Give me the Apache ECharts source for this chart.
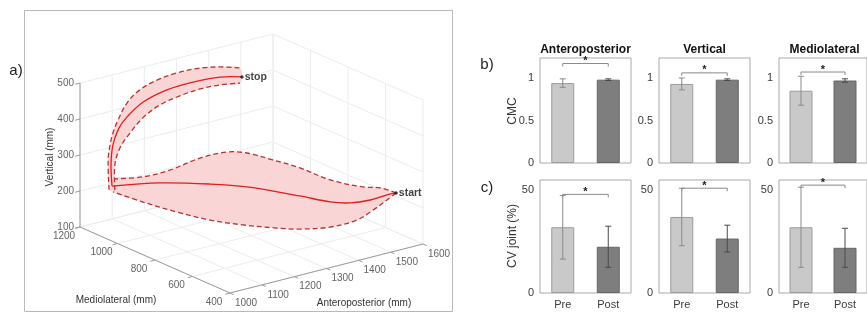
<!DOCTYPE html>
<html>
<head>
<meta charset="utf-8">
<script src="https://cdn.jsdelivr.net/npm/echarts@6/dist/echarts.min.js"></script>
<style>
  html, body { margin: 0; padding: 0; background: #fff; }
  #chart { width: 867px; height: 320px; }
</style>
</head>
<body>
<div id="chart"></div>
<script>
// ---------- a) hand trajectory, points as [anteroposterior, mediolateral, vertical] in mm ----------
const apTicks = [1000, 1100, 1200, 1300, 1400, 1500, 1600];
const mlTicks = [400, 600, 800, 1000, 1200];
const vTicks = [100, 200, 300, 400, 500];

// reaching phase: from the start position back towards the body
const reachMean = [[1550,458,240],[1533,477,234],[1501,512,219],[1463,554,210],[1425,595,212],
  [1368,658,227],[1267,768,250],[1197,845,256],[1102,948,257],[1011,1048,246]];
const reachUpper = [[1550,458,240],[1520,492,253],[1487,527,255],[1425,595,273],[1368,658,305],
  [1316,714,326],[1267,768,344],[1229,809,346],[1178,865,328],[1121,928,293],[1070,984,273],[1013,1046,266]];
const reachLower = [[1550,458,240],[1533,477,220],[1506,506,191],[1476,539,163],[1425,595,142],
  [1368,658,135],[1324,705,137],[1260,776,144],[1197,845,156],[1134,913,177],[1070,984,203],[1013,1046,230]];

// lifting phase: up and forward to the stop position
const liftMean = [[1011,1048,246],[1009,1050,305],[1015,1050,359],[1034,1050,402],[1059,1050,427],
  [1109,1050,457],[1183,1050,474],[1264,1050,477],[1348,1050,472],[1416,1050,457]];
const liftOuter = [[1003,1050,237],[1000,1050,321],[1006,1050,361],[1015,1050,392],[1031,1050,425],
  [1059,1050,466],[1099,1050,493],[1152,1050,508],[1214,1050,514],[1286,1050,511],[1348,1050,500],[1410,1050,483]];
const liftInner = [[1021,1050,232],[1021,1050,302],[1037,1050,346],[1068,1050,380],[1108,1050,413],
  [1161,1050,437],[1223,1050,448],[1286,1050,453],[1348,1050,450],[1410,1050,441]];

// ---------- b) / c) pre vs post comparison per direction ----------
const directions = ['Anteroposterior', 'Vertical', 'Mediolateral'];
const sessions = ['Pre', 'Post'];
const cmcMean = [[0.94, 0.98], [0.93, 0.98], [0.85, 0.97]];
const cmcSD   = [[0.05, 0.01], [0.07, 0.01], [0.17, 0.02]];
const cmcBracket = [1.17, 1.06, 1.07];
const cvMean = [[32, 22.5], [37, 26.5], [32, 22]];
const cvSD   = [[15.5, 10], [14, 6.5], [19.5, 9.5]];
const cvBracket = [48, 51, 52.5];

// ---------- styling / layout ----------
const FONT = 'Arial, "Liberation Sans", Helvetica, sans-serif';
const LIGHT = '#c9c9c9', DARK = '#7e7e7e';

// oblique view of the 3D box: screen position of the corner (AP min, ML max, V min)
// and the screen vector spanned by each full axis range
const VIEW = { origin: [80, 227], apDir: [193, -49], mlDir: [150, 66], vDir: [0, -144] };
function proj(p) {
  const a = (p[0] - 1000) / 600, m = (1200 - p[1]) / 800, z = (p[2] - 100) / 400;
  return [VIEW.origin[0] + a * VIEW.apDir[0] + m * VIEW.mlDir[0] + z * VIEW.vDir[0],
          VIEW.origin[1] + a * VIEW.apDir[1] + m * VIEW.mlDir[1] + z * VIEW.vDir[1]];
}

// box grid lines on the floor and the two back walls
const gridSegs = [];
apTicks.forEach(a => { gridSegs.push([[a,400,100],[a,1200,100]]); gridSegs.push([[a,1200,100],[a,1200,500]]); });
mlTicks.forEach(m => { gridSegs.push([[1000,m,100],[1600,m,100]]); gridSegs.push([[1600,m,100],[1600,m,500]]); });
vTicks.forEach(v => { gridSegs.push([[1000,1200,v],[1600,1200,v]]); gridSegs.push([[1600,1200,v],[1600,400,v]]); });
const axisSegs = [[[1000,1200,100],[1000,1200,500]], [[1000,1200,100],[1000,400,100]], [[1000,400,100],[1600,400,100]]];
vTicks.forEach(v => axisSegs.push([[1000,1200,v],[985,1200,v]]));
mlTicks.forEach(m => axisSegs.push([[1000,m,100],[985,m,100]]));
apTicks.forEach(a => axisSegs.push([[a,400,100],[a,380,100]]));

const segData = segs => segs.map(s => proj(s[0]).concat(proj(s[1])));
function segSeries(segs, color) {
  return {
    type: 'custom', xAxisIndex: 0, yAxisIndex: 0, silent: true,
    dimensions: ['x1', 'y1', 'x2', 'y2'], encode: { x: [0, 2], y: [1, 3] },
    data: segData(segs),
    renderItem(params, api) {
      const p1 = api.coord([api.value(0), api.value(1)]);
      const p2 = api.coord([api.value(2), api.value(3)]);
      return { type: 'line', shape: { x1: p1[0], y1: p1[1], x2: p2[0], y2: p2[1] },
               style: { stroke: color, lineWidth: 1 } };
    }
  };
}

const SMOOTH = 0.35;
const bands = [{ upper: reachUpper, lower: reachLower }, { upper: liftOuter, lower: liftInner }];
const bandSeries = {
  type: 'custom', xAxisIndex: 0, yAxisIndex: 0, silent: true,
  data: bands.map((b, i) => [i, 0]),
  renderItem(params, api) {
    const b = bands[params.dataIndex];
    const up = b.upper.map(p => api.coord(proj(p)));
    const lo = b.lower.map(p => api.coord(proj(p)));
    const dashed = { stroke: '#b53434', lineWidth: 1.3, lineDash: [5, 3], fill: null };
    return { type: 'group', children: [
      { type: 'polygon', shape: { points: up.concat(lo.slice().reverse()), smooth: SMOOTH },
        style: { fill: '#f9d5d5' } },
      { type: 'polyline', shape: { points: up, smooth: SMOOTH }, style: dashed },
      { type: 'polyline', shape: { points: lo, smooth: SMOOTH }, style: dashed }
    ] };
  }
};
const means = [reachMean, liftMean];
const meanSeries = {
  type: 'custom', xAxisIndex: 0, yAxisIndex: 0, silent: true,
  data: means.map((m, i) => [i, 0]),
  renderItem(params, api) {
    const pts = means[params.dataIndex].map(p => api.coord(proj(p)));
    return { type: 'polyline', shape: { points: pts, smooth: SMOOTH },
             style: { stroke: '#e01e1e', lineWidth: 1.3, fill: null } };
  }
};

function tickLabels(items, offset, align) {
  return {
    type: 'scatter', xAxisIndex: 0, yAxisIndex: 0, silent: true, symbolSize: 1,
    itemStyle: { color: 'transparent' },
    data: items.map(it => ({ name: String(it.text), value: proj(it.pos) })),
    label: { show: true, position: 'inside', offset, align, verticalAlign: 'middle',
             formatter: '{b}', color: '#3a3a3a', fontSize: 10, fontFamily: FONT }
  };
}

const endPoints = {
  type: 'scatter', xAxisIndex: 0, yAxisIndex: 0, silent: true, symbolSize: 3.5,
  itemStyle: { color: '#111' },
  data: [{ name: 'start', value: proj(reachMean[0]) },
         { name: 'stop', value: proj(liftMean[liftMean.length - 1]) }],
  label: { show: true, position: 'right', distance: 1, formatter: '{b}', color: '#111',
           fontSize: 10.5, fontWeight: 'bold', fontFamily: FONT }
};

// ---------- bar panels ----------
const colLeft = [540, 659, 779];
const BAR_W = 91;
const rows = [
  { top: 58, height: 105, max: 1.235, interval: 0.5, mean: cmcMean, sd: cmcSD, bracket: cmcBracket, showX: false },
  { top: 180, height: 113, max: 55, interval: 50, mean: cvMean, sd: cvSD, bracket: cvBracket, showX: true }
];

const grids = [{ left: 0, top: 0, width: 460, height: 320 }];
const xAxes = [{ gridIndex: 0, type: 'value', min: 0, max: 460, show: false }];
const yAxes = [{ gridIndex: 0, type: 'value', min: 0, max: 320, inverse: true, show: false }];
const barSeries = [];

rows.forEach(row => {
  directions.forEach((dir, c) => {
    const gi = grids.length;
    grids.push({ left: colLeft[c], top: row.top, width: BAR_W, height: row.height,
                 show: true, borderColor: '#a9a9a9', borderWidth: 1 });
    xAxes.push({ gridIndex: gi, type: 'category', data: sessions,
                 axisLine: { show: false }, axisTick: { show: false },
                 axisLabel: { show: row.showX, margin: 6, color: '#3a3a3a', fontSize: 11, fontFamily: FONT } });
    yAxes.push({ gridIndex: gi, type: 'value', min: 0, max: row.max, interval: row.interval,
                 splitLine: { show: false }, axisLine: { show: false }, axisTick: { show: false },
                 axisLabel: { showMaxLabel: false, margin: 6, color: '#3a3a3a', fontSize: 11, fontFamily: FONT } });
    const m = row.mean[c], s = row.sd[c];
    barSeries.push({
      type: 'bar', xAxisIndex: gi, yAxisIndex: gi, barWidth: 23, silent: true,
      data: [
        { value: m[0], itemStyle: { color: LIGHT, borderColor: '#9c9c9c', borderWidth: 1 } },
        { value: m[1], itemStyle: { color: DARK, borderColor: '#666', borderWidth: 1 } }
      ]
    });
    barSeries.push({
      type: 'custom', xAxisIndex: gi, yAxisIndex: gi, silent: true, z: 3,
      data: [[0, m[0], s[0]], [1, m[1], s[1]]],
      renderItem(params, api) {
        const i = api.value(0), v = api.value(1), e = api.value(2);
        const lo = api.coord([i, v - e]), hi = api.coord([i, v + e]);
        const col = i === 0 ? '#8a8a8a' : '#4a4a4a';
        const st = { stroke: col, lineWidth: 1 };
        return { type: 'group', children: [
          { type: 'line', shape: { x1: lo[0], y1: lo[1], x2: hi[0], y2: hi[1] }, style: st },
          { type: 'line', shape: { x1: lo[0] - 3, y1: lo[1], x2: lo[0] + 3, y2: lo[1] }, style: st },
          { type: 'line', shape: { x1: hi[0] - 3, y1: hi[1], x2: hi[0] + 3, y2: hi[1] }, style: st }
        ] };
      }
    });
    barSeries.push({
      type: 'custom', xAxisIndex: gi, yAxisIndex: gi, silent: true, z: 4,
      data: [[0, row.bracket[c]]],
      renderItem(params, api) {
        const h = api.value(1);
        const a = api.coord([0, h]), b = api.coord([1, h]);
        return { type: 'group', children: [
          { type: 'polyline', shape: { points: [[a[0], a[1] + 3], a, b, [b[0], b[1] + 3]] },
            style: { stroke: '#8a8a8a', lineWidth: 1, fill: null } },
          { type: 'text', x: (a[0] + b[0]) / 2, y: a[1] + 3,
            style: { text: '*', align: 'center', verticalAlign: 'bottom', fill: '#222',
                     font: 'bold 11px ' + FONT } }
        ] };
      }
    });
  });
});

const txt = (x, y, text, size, opts = {}) => Object.assign({
  type: 'text', x, y, silent: true,
  style: Object.assign({ text, fill: '#222', font: size + 'px ' + FONT, align: 'center', verticalAlign: 'middle' }, opts.style || {})
}, opts.el || {});

const graphic = [
  { type: 'rect', silent: true, shape: { x: 24.5, y: 10.5, width: 428, height: 301 },
    style: { fill: null, stroke: '#b9b9b9', lineWidth: 1 } },
  txt(16, 71, 'a)', 15),
  txt(487, 65, 'b)', 15),
  txt(487, 188, 'c)', 15),
  txt(50, 157, 'Vertical (mm)', 10, { el: { rotation: Math.PI / 2 }, style: { fill: '#333' } }),
  txt(116, 300, 'Mediolateral (mm)', 10, { style: { fill: '#333' } }),
  txt(364, 303, 'Anteroposterior (mm)', 10, { style: { fill: '#333' } }),
  txt(513, 111, 'CMC', 12, { el: { rotation: Math.PI / 2 }, style: { fill: '#333' } }),
  txt(513, 236, 'CV joint (%)', 12, { el: { rotation: Math.PI / 2 }, style: { fill: '#333' } })
];
directions.forEach((d, c) => graphic.push(
  txt(colLeft[c] + BAR_W / 2, 50, d, 12, { style: { font: 'bold 12px ' + FONT, fill: '#111' } })));

const chart = echarts.init(document.getElementById('chart'));
chart.setOption({
  animation: false,
  grid: grids,
  xAxis: xAxes,
  yAxis: yAxes,
  graphic,
  series: [
    segSeries(gridSegs, '#ececec'),
    segSeries(axisSegs, '#9a9a9a'),
    bandSeries,
    meanSeries,
    endPoints,
    tickLabels(vTicks.map(v => ({ pos: [1000, 1200, v], text: v })), [-6, 0], 'right'),
    tickLabels(mlTicks.map(m => ({ pos: [1000, m, 100], text: m })), [-16, 9], 'center'),
    tickLabels(apTicks.map(a => ({ pos: [a, 400, 100], text: a })), [16, 10], 'center')
  ].concat(barSeries)
});
</script>
</body>
</html>
